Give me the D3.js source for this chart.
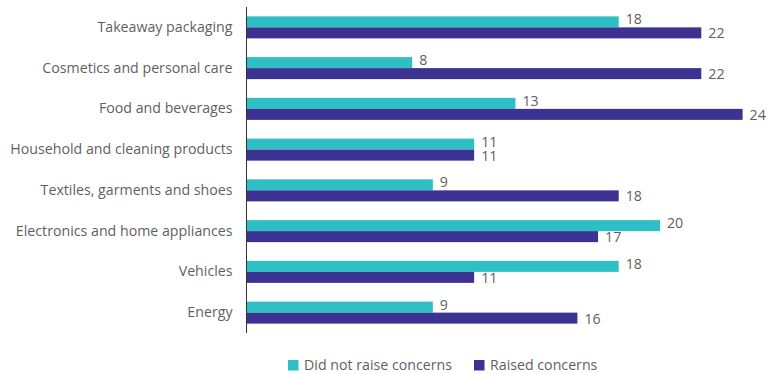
<!DOCTYPE html>
<html>
<head>
<meta charset="utf-8">
<script src="https://cdn.jsdelivr.net/npm/d3@7"></script>
<style>
  body { margin: 0; background: #fff; }
  svg text { font-family: "Open Sans", sans-serif; fill: #5f5f5f; }
</style>
</head>
<body>
<div id="chart"></div>
<script>
var categories = [
    "Takeaway packaging",
    "Cosmetics and personal care",
    "Food and beverages",
    "Household and cleaning products",
    "Textiles, garments and shoes",
    "Electronics and home appliances",
    "Vehicles",
    "Energy"
];
var seriesNames = ["Did not raise concerns", "Raised concerns"];
var didNotRaise = [18, 8, 13, 11, 9, 20, 18, 9];
var raised = [22, 22, 24, 11, 18, 17, 11, 16];
var colors = ["#2ebfc4", "#3b3291"];

var width = 768, height = 374;
var fs = 14.2;
var svg = d3.select("#chart").append("svg")
    .attr("width", width)
    .attr("height", height);

var x = d3.scaleLinear().domain([0, 24]).range([247, 742.6]);
var y = d3.scaleBand().domain(categories).range([7, 333]).paddingInner(0.46).paddingOuter(0.23);
var ySub = d3.scaleBand().domain([0, 1]).range([0, y.bandwidth()]);

var rows = categories.map((c, i) => ({ cat: c, vals: [didNotRaise[i], raised[i]] }));

var g = svg.append("g");
var grp = g.selectAll(".row")
    .data(rows)
    .enter()
    .append("g")
    .attr("transform", d => "translate(0," + y(d.cat) + ")");

grp.selectAll("rect")
    .data(d => d.vals.map((v, k) => ({ v: v, k: k })))
    .enter()
    .append("rect")
    .attr("x", x(0))
    .attr("y", d => ySub(d.k))
    .attr("width", d => x(d.v) - x(0))
    .attr("height", ySub.bandwidth())
    .attr("fill", d => colors[d.k]);

// value labels, teal one sits a little higher like the original
grp.selectAll(".val")
    .data(d => d.vals.map((v, k) => ({ v: v, k: k })))
    .enter()
    .append("text")
    .attr("class", "val")
    .attr("x", d => x(d.v) + 7)
    .attr("y", d => ySub(d.k) + ySub.bandwidth() / 2 + (d.k == 0 ? -2.5 : 0.5))
    .attr("dy", "0.35em")
    .attr("font-size", fs)
    .text(d => d.v);

// category axis
var yAxis = d3.axisLeft(y).tickSize(0).tickPadding(14);
var ax = g.append("g")
    .attr("transform", "translate(" + (x(0) - 0.5) + ",0)")
    .call(yAxis);
ax.select(".domain").attr("stroke", "#333").attr("d", "M0,7V333");
ax.selectAll("text")
    .attr("font-size", fs)
    .style("font-family", "'Open Sans', sans-serif")
    .attr("fill", "#5f5f5f");

// legend
var legendX = [288, 474];
var leg = svg.append("g").selectAll("g")
    .data(seriesNames)
    .enter()
    .append("g")
    .attr("transform", (d, i) => "translate(" + legendX[i] + ",360)");
leg.append("rect")
    .attr("width", 10.5)
    .attr("height", 10.5)
    .attr("fill", (d, i) => colors[i]);
leg.append("text")
    .attr("x", 16)
    .attr("y", 5.5)
    .attr("dy", "0.35em")
    .attr("font-size", fs)
    .text(d => d);
</script>
</body>
</html>
